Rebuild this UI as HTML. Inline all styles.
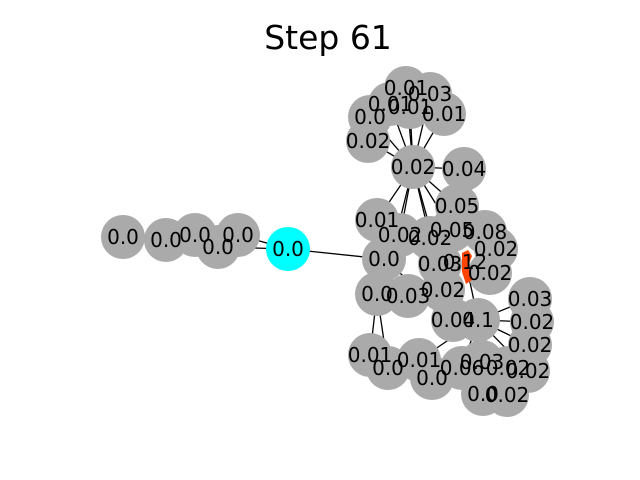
<!DOCTYPE html>
<html><head><style>body{margin:0;background:#fff}svg{display:block}text{font-family:"DejaVu Sans","Liberation Sans",sans-serif}</style></head><body>
<svg width="640" height="480" viewBox="0 0 640 480">
<text x="328" y="49" font-size="33" text-anchor="middle">Step 61</text>
<g stroke="#000" stroke-width="1.3">
<line x1="238" y1="235" x2="288" y2="249"/><line x1="218" y1="247" x2="288" y2="249"/>
<line x1="288" y1="249" x2="384" y2="259"/>
<line x1="413" y1="167" x2="406" y2="88"/><line x1="413" y1="167" x2="430" y2="94"/><line x1="413" y1="167" x2="390" y2="104"/><line x1="413" y1="167" x2="410" y2="107"/><line x1="413" y1="167" x2="444" y2="114"/><line x1="413" y1="167" x2="370" y2="117"/><line x1="413" y1="167" x2="368" y2="141"/><line x1="413" y1="167" x2="464" y2="169"/>
<line x1="413" y1="167" x2="457" y2="206"/><line x1="413" y1="167" x2="377" y2="220"/><line x1="413" y1="167" x2="400" y2="235"/><line x1="413" y1="167" x2="395" y2="240"/><line x1="413" y1="167" x2="430" y2="238"/><line x1="413" y1="167" x2="452" y2="230"/><line x1="413" y1="167" x2="440" y2="264"/>
<line x1="478" y1="320" x2="530" y2="299"/><line x1="478" y1="320" x2="532" y2="322"/><line x1="478" y1="320" x2="530" y2="345"/><line x1="478" y1="320" x2="528" y2="371"/><line x1="478" y1="320" x2="467" y2="268"/><line x1="478" y1="320" x2="419" y2="360"/><line x1="478" y1="320" x2="462" y2="368"/>
<line x1="377" y1="294" x2="370" y2="355"/><line x1="377" y1="294" x2="388" y2="368"/><line x1="384" y1="259" x2="453" y2="320"/>
</g>
<g fill="#aaaaaa">
<circle cx="123" cy="237" r="22"/><circle cx="166" cy="240" r="22"/><circle cx="195" cy="235" r="22"/><circle cx="218" cy="247" r="22"/><circle cx="238" cy="235" r="22"/>
<circle cx="406" cy="88" r="22"/><circle cx="430" cy="94" r="22"/><circle cx="390" cy="104" r="22"/><circle cx="410" cy="107" r="22"/><circle cx="444" cy="114" r="22"/><circle cx="370" cy="117" r="22"/><circle cx="368" cy="141" r="22"/><circle cx="413" cy="167" r="22"/><circle cx="464" cy="169" r="22"/>
<circle cx="457" cy="206" r="22"/><circle cx="377" cy="220" r="22"/><circle cx="400" cy="235" r="22"/><circle cx="430" cy="238" r="22"/><circle cx="452" cy="230" r="22"/><circle cx="485" cy="232" r="22"/><circle cx="496" cy="249" r="22"/><circle cx="490" cy="273" r="22"/><circle cx="440" cy="264" r="22"/><circle cx="384" cy="259" r="22"/>
<circle cx="377" cy="294" r="22"/><circle cx="408" cy="296" r="22"/><circle cx="443" cy="290" r="22"/><circle cx="453" cy="320" r="22"/><circle cx="478" cy="320" r="22"/>
<circle cx="530" cy="299" r="22"/><circle cx="532" cy="322" r="22"/><circle cx="530" cy="345" r="22"/><circle cx="528" cy="371" r="22"/>
<circle cx="370" cy="355" r="22"/><circle cx="388" cy="368" r="22"/><circle cx="419" cy="360" r="22"/><circle cx="432" cy="378" r="22"/><circle cx="462" cy="368" r="22"/><circle cx="482" cy="362" r="22"/><circle cx="508" cy="368" r="22"/><circle cx="483" cy="394" r="22"/><circle cx="507" cy="395" r="22"/>
</g>
<circle cx="288" cy="249" r="22" fill="#00ffff"/>
<path d="M462 253 L468 250 L472 256 L468 266 L472 280 L466 284 L462 272 Z" fill="#ff4500"/>
<g font-size="20" text-anchor="middle" fill="#000">
<text x="123" y="244">0.0</text><text x="166" y="247">0.0</text><text x="195" y="242">0.0</text><text x="218" y="254">0.0</text><text x="238" y="242">0.0</text><text x="288" y="256">0.0</text>
<text x="406" y="95">0.01</text><text x="430" y="101">0.03</text><text x="390" y="111">0.01</text><text x="410" y="114">0.01</text><text x="444" y="121">0.01</text><text x="370" y="124">0.0</text><text x="368" y="148">0.02</text><text x="413" y="174">0.02</text><text x="464" y="176">0.04</text>
<text x="457" y="213">0.05</text><text x="377" y="227">0.01</text><text x="400" y="242">0.02</text><text x="430" y="245">0.02</text><text x="452" y="237">0.05</text><text x="485" y="239">0.08</text><text x="496" y="256">0.02</text><text x="490" y="280">0.02</text><text x="440" y="271">0.03</text><text x="465" y="269">0.12</text><text x="384" y="266">0.0</text>
<text x="377" y="301">0.0</text><text x="408" y="303">0.03</text><text x="443" y="297">0.02</text><text x="453" y="327">0.04</text><text x="478" y="327">0.1</text>
<text x="530" y="306">0.03</text><text x="532" y="329">0.02</text><text x="530" y="352">0.02</text><text x="528" y="378">0.02</text>
<text x="370" y="362">0.01</text><text x="388" y="375">0.0</text><text x="419" y="367">0.01</text><text x="432" y="385">0.0</text><text x="462" y="375">0.06</text><text x="482" y="369">0.03</text><text x="508" y="375">0.02</text><text x="483" y="401">0.0</text><text x="507" y="402">0.02</text>
</g>
</svg>
</body></html>
